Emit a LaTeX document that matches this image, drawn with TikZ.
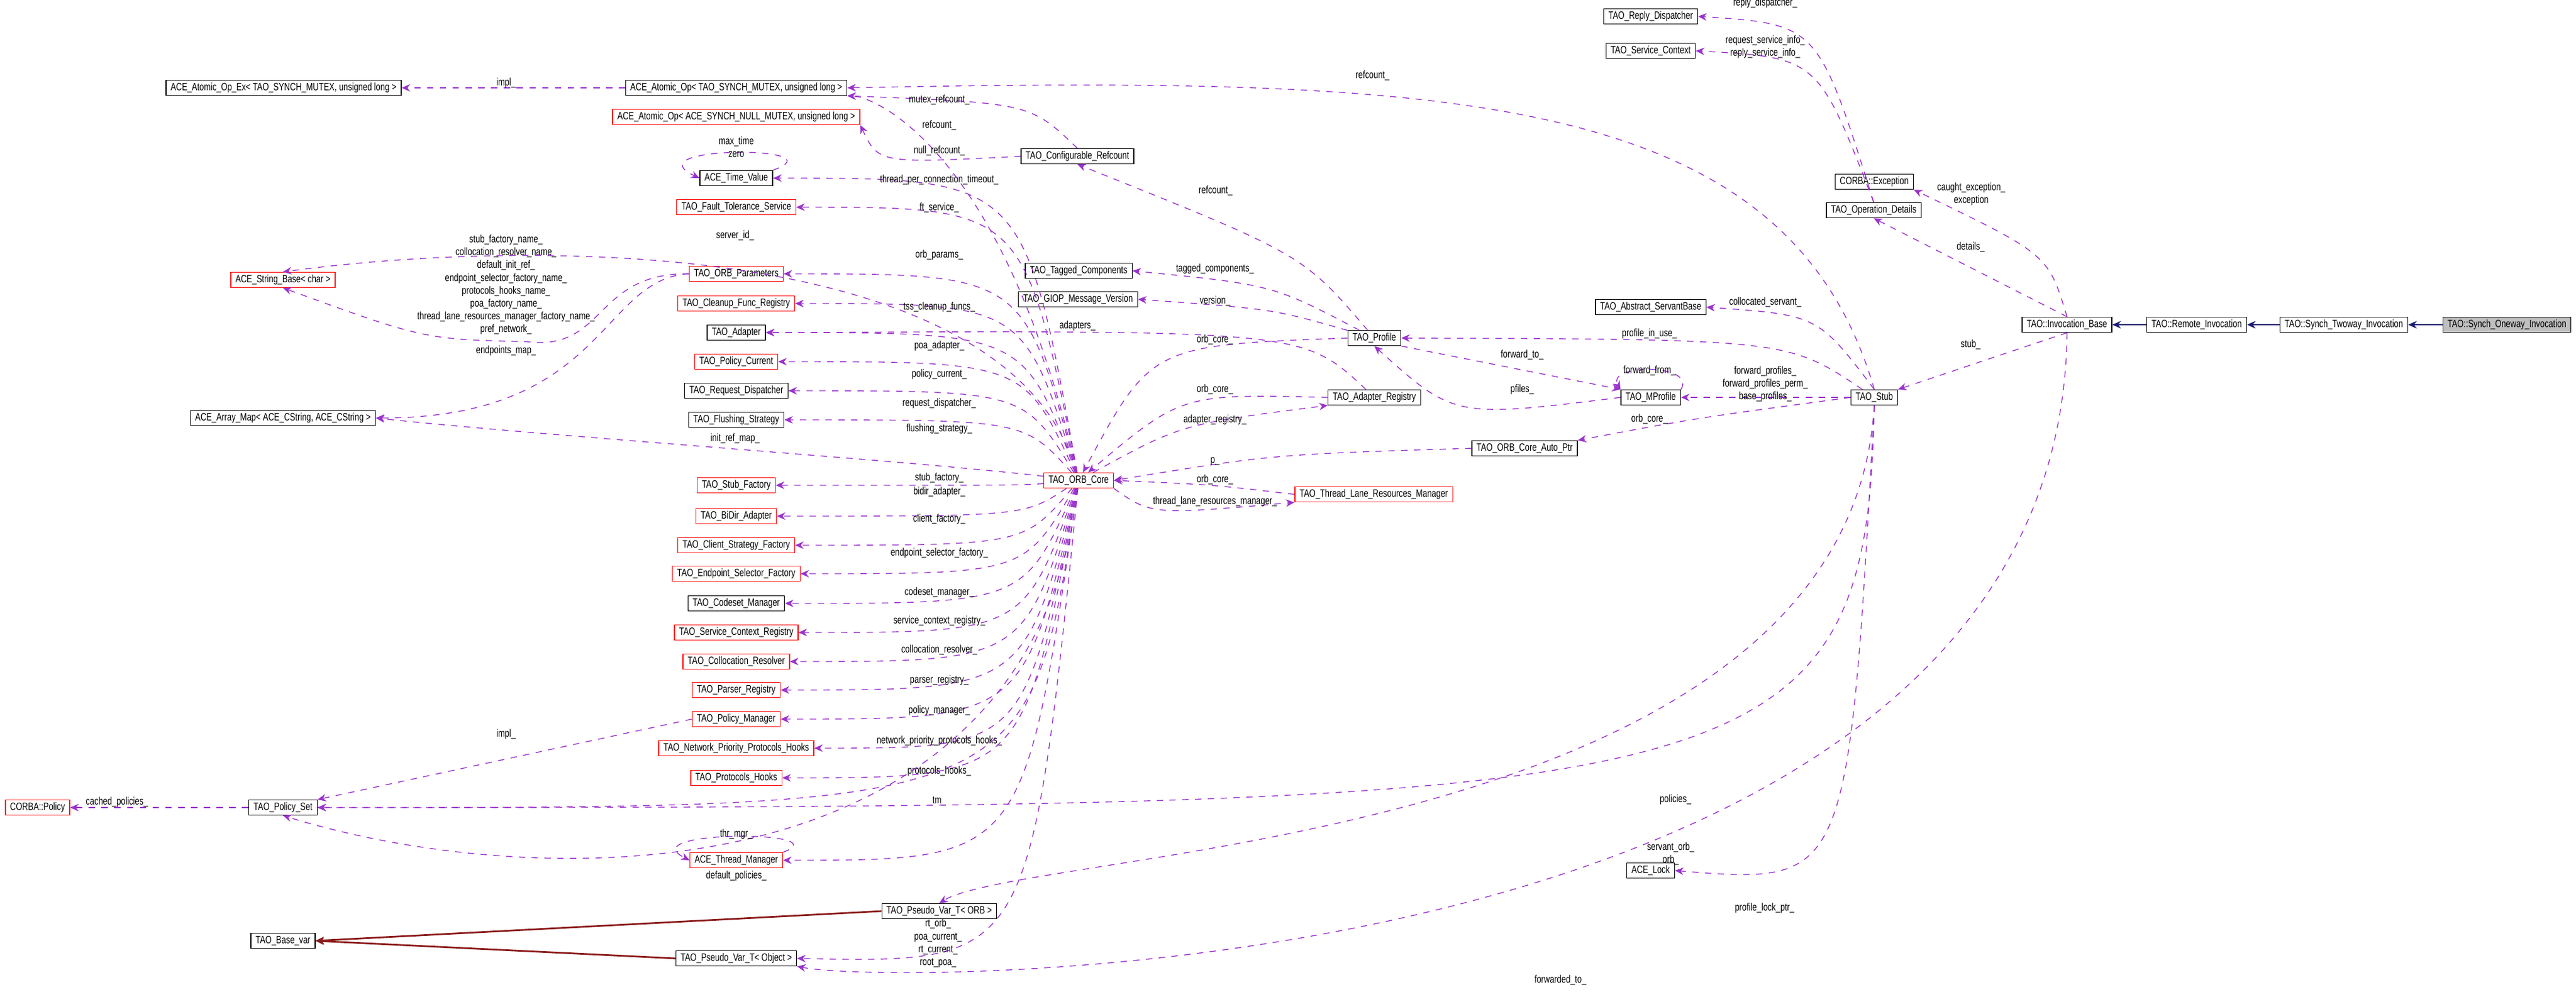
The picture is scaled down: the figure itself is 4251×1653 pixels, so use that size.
\documentclass[tikz,border=0pt]{standalone}
\usepackage{fontspec}
\newfontfamily\dxfont[FakeStretch=0.76]{Liberation Sans}
\usetikzlibrary{arrows.meta}
\definecolor{usecol}{HTML}{9A32CD}
\definecolor{inhcol}{HTML}{191970}
\definecolor{tplcol}{HTML}{8B1A1A}

\begin{document}
\begin{tikzpicture}[x=0.01cm, y=-0.01cm,
  every node/.style={font=\dxfont\fontsize{5}{6}\selectfont},
  cls/.style={draw, thin, fill=white, minimum height=0.25cm, inner xsep=2.2pt, inner ysep=0pt},
  redcls/.style={cls, draw=red},
  selfcls/.style={cls, fill=black!25},
  use/.style={draw=usecol, dashed, -{Stealth[length=4pt,width=3.5pt]}},
  inh/.style={draw=inhcol, thick, -{Stealth[length=4pt,width=3.5pt]}},
  tpl/.style={draw=tplcol, thick, -{Stealth[length=4pt,width=3.5pt]}},
  lbl/.style={align=center, inner sep=0pt}
]
\useasboundingbox (0,0) rectangle (4251,1653);

% left and middle columns
\node[cls] (aopex) at (468,145) {ACE\_Atomic\_Op\_Ex< TAO\_SYNCH\_MUTEX, unsigned long >};
\node[cls] (aop) at (1215,145) {ACE\_Atomic\_Op< TAO\_SYNCH\_MUTEX, unsigned long >};
\node[redcls] (aopnull) at (1215,193) {ACE\_Atomic\_Op< ACE\_SYNCH\_NULL\_MUTEX, unsigned long >};
\node[cls] (tv) at (1215,294) {ACE\_Time\_Value};
\node[redcls] (fts) at (1215,342) {TAO\_Fault\_Tolerance\_Service};
\node[redcls] (strb) at (467,462) {ACE\_String\_Base< char >};
\node[redcls] (orbp) at (1215,452) {TAO\_ORB\_Parameters};
\node[redcls] (cfr) at (1215,501) {TAO\_Cleanup\_Func\_Registry};
\node[cls] (adp) at (1215,549) {TAO\_Adapter};
\node[redcls] (pcur) at (1215,597) {TAO\_Policy\_Current};
\node[cls] (rdis) at (1215,645) {TAO\_Request\_Dispatcher};
\node[cls] (flush) at (1215,693) {TAO\_Flushing\_Strategy};
\node[cls] (amap) at (467,690) {ACE\_Array\_Map< ACE\_CString, ACE\_CString >};
\node[redcls] (stubf) at (1215,801) {TAO\_Stub\_Factory};
\node[redcls] (bidir) at (1215,852) {TAO\_BiDir\_Adapter};
\node[redcls] (csf) at (1215,900) {TAO\_Client\_Strategy\_Factory};
\node[redcls] (esf) at (1215,947) {TAO\_Endpoint\_Selector\_Factory};
\node[cls] (csm) at (1215,996) {TAO\_Codeset\_Manager};
\node[redcls] (scr) at (1215,1044) {TAO\_Service\_Context\_Registry};
\node[redcls] (colr) at (1215,1092) {TAO\_Collocation\_Resolver};
\node[redcls] (parr) at (1215,1139) {TAO\_Parser\_Registry};
\node[redcls] (pman) at (1215,1187) {TAO\_Policy\_Manager};
\node[redcls] (nph) at (1215,1235) {TAO\_Network\_Priority\_Protocols\_Hooks};
\node[redcls] (phk) at (1215,1284) {TAO\_Protocols\_Hooks};
\node[redcls] (cpol) at (62,1333) {CORBA::Policy};
\node[cls] (pset) at (467,1333) {TAO\_Policy\_Set};
\node[redcls] (thm) at (1215,1420) {ACE\_Thread\_Manager};
\node[cls] (pvorb) at (1550,1504) {TAO\_Pseudo\_Var\_T< ORB >};
\node[cls] (bvar) at (467,1553) {TAO\_Base\_var};
\node[cls] (pvobj) at (1215,1582) {TAO\_Pseudo\_Var\_T< Object >};

% core and right side
\node[redcls] (orb) at (1780,793) {TAO\_ORB\_Core};
\node[cls] (cref) at (1778,258) {TAO\_Configurable\_Refcount};
\node[cls] (tagc) at (1780,447) {TAO\_Tagged\_Components};
\node[cls] (giop) at (1779,494) {TAO\_GIOP\_Message\_Version};
\node[cls] (prof) at (2268,558) {TAO\_Profile};
\node[cls] (areg) at (2268,656) {TAO\_Adapter\_Registry};
\node[cls] (autop) at (2516,740) {TAO\_ORB\_Core\_Auto\_Ptr};
\node[redcls] (tlrm) at (2267,816) {TAO\_Thread\_Lane\_Resources\_Manager};
\node[cls] (repd) at (2724,27) {TAO\_Reply\_Dispatcher};
\node[cls] (sctx) at (2724,84) {TAO\_Service\_Context};
\node[cls] (asb) at (2724,507) {TAO\_Abstract\_ServantBase};
\node[cls] (mprof) at (2724,656) {TAO\_MProfile};
\node[cls] (lock) at (2724,1437) {ACE\_Lock};
\node[cls] (cexc) at (3093,300) {CORBA::Exception};
\node[cls] (opd) at (3092,347) {TAO\_Operation\_Details};
\node[cls] (stub) at (3093,656) {TAO\_Stub};
\node[cls] (ib) at (3411,536) {TAO::Invocation\_Base};
\node[cls] (ri) at (3625,536) {TAO::Remote\_Invocation};
\node[cls] (sti) at (3868,536) {TAO::Synch\_Twoway\_Invocation};
\node[selfcls] (soi) at (4137,536) {TAO::Synch\_Oneway\_Invocation};

% inheritance
\draw[inh] (soi) -- (sti);
\draw[inh] (sti) -- (ri);
\draw[inh] (ri) -- (ib);
\draw[tpl] (pvorb.west) -- (bvar.east);
\draw[tpl] (pvobj.west) -- (bvar.east);

% members of TAO_ORB_Core fanning to the left
\foreach \t/\lab/\ly in {tv/thread\_per\_connection\_timeout\_/297, fts/ft\_service\_/343,
    orbp/orb\_params\_/421, cfr/tss\_cleanup\_funcs\_/507, adp/poa\_adapter\_/571,
    pcur/policy\_current\_/618, rdis/request\_dispatcher\_/666, flush/flushing\_strategy\_/708,
    stubf/stub\_factory\_/789, bidir/bidir\_adapter\_/812, csf/client\_factory\_/857,
    esf/endpoint\_selector\_factory\_/913, csm/codeset\_manager\_/978,
    scr/service\_context\_registry\_/1025, colr/collocation\_resolver\_/1073,
    parr/parser\_registry\_/1123, pman/policy\_manager\_/1173,
    nph/network\_priority\_protocols\_hooks\_/1223, phk/protocols\_hooks\_/1273}{
  \draw[use] (orb) .. controls (1690,0 |- \t.east) .. (\t.east);
  \node[lbl] (l\t) at (1550,\ly) {\lab};
}
\draw[use] (orb) .. controls (1690,1420) .. (thm.east);
\draw[use] (orb) .. controls (1700,1333) .. (pset.east);
\node[lbl] (ltm) at (1550,1323) {tm\_};
\draw[use] (orb) .. controls (1700,1480) and (900,1480) .. (pset.south);
\node[lbl] (ldefp) at (1215,1446) {default\_policies\_};
\draw[use] (orb) .. controls (1700,1590) .. (pvobj.east);
\node[lbl] (lrt) at (1548,1557) {rt\_orb\_\\poa\_current\_\\rt\_current\_\\root\_poa\_};
\draw[use] (orb) .. controls (1670,400) and (900,390) .. (strb.north);
\node[lbl] (lsid) at (1213,389) {server\_id\_};
\draw[use] (orb) .. controls (1500,760) and (900,720) .. (amap.east);
\node[lbl] (lirm) at (1213,724) {init\_ref\_map\_};
\draw[use] (orb) .. controls (1660,260) and (1450,160) .. (aop.south east);
\node[lbl] (lref1) at (1550,207) {refcount\_};

% self loops
\draw[use] (tv.north east) .. controls (1390,240) and (1040,240) .. (tv.west);
\node[lbl] (lmax) at (1215,243) {max\_time\\zero};
\draw[use] (thm.north east) .. controls (1390,1370) and (1040,1370) .. (thm.west);
\node[lbl] (lthr) at (1215,1377) {thr\_mgr\_};
\draw[use] (mprof.north east) .. controls (2800,600) and (2650,600) .. (mprof.north west);
\node[lbl] (lffrom) at (2722,612) {forward\_from\_};

% left side members
\draw[use] (aop) -- (aopex);
\node[lbl] (limpl1) at (835,137) {impl\_};
\draw[use] (orbp.west) .. controls (980,450) and (1000,580) .. (870,564) .. controls (700,560) .. (strb.south);
\node[lbl] (lnames) at (835,470) {stub\_factory\_name\_\\collocation\_resolver\_name\_\\default\_init\_ref\_\\endpoint\_selector\_factory\_name\_\\protocols\_hooks\_name\_\\poa\_factory\_name\_\\thread\_lane\_resources\_manager\_factory\_name\_\\pref\_network\_};
\draw[use] (orbp.west) .. controls (990,460) and (1000,690) .. (amap.east);
\node[lbl] (lemap) at (835,579) {endpoints\_map\_};
\draw[use] (pman.west) -- (pset.north east);
\node[lbl] (limpl2) at (835,1212) {impl\_};
\draw[use] (pset) -- (cpol);
\node[lbl] (lcache) at (193,1324) {cached\_policies\_};

% refcounts
\draw[use] (cref.north) .. controls (1700,170) .. (aop.south east);
\node[lbl] (lmref) at (1550,165) {mutex\_refcount\_};
\draw[use] (cref.west) .. controls (1450,270) .. (aopnull.south east);
\node[lbl] (lnref) at (1550,249) {null\_refcount\_};
\draw[use] (stub.north) .. controls (2950,150) and (2400,125) .. (aop.east);
\node[lbl] (lref2) at (2265,125) {refcount\_};

% TAO_Profile and friends
\draw[use] (prof) .. controls (2150,420) .. (cref.south);
\node[lbl] (lref3) at (2006,315) {refcount\_};
\draw[use] (prof) .. controls (2100,470) .. (tagc.east);
\node[lbl] (ltag) at (2005,444) {tagged\_components\_};
\draw[use] (prof) .. controls (2100,510) .. (giop.east);
\node[lbl] (lver) at (2005,497) {version\_};
\draw[use] (areg) .. controls (2150,545) .. (adp.east);
\node[lbl] (ladps) at (1778,538) {adapters\_};
\draw[use] (prof.west) .. controls (1900,570) .. (orb);
\node[lbl] (loc1) at (2005,561) {orb\_core\_};
\draw[use] (areg.west) .. controls (1950,650) .. (orb);
\node[lbl] (loc2) at (2005,643) {orb\_core\_};
\draw[use] (orb) .. controls (1950,700) .. (areg.south west);
\node[lbl] (lareg) at (2005,693) {adapter\_registry\_};
\draw[use] (autop.west) .. controls (2100,750) .. (orb.east);
\node[lbl] (lp) at (2005,762) {p\_};
\draw[use] (tlrm.west) .. controls (2000,800) .. (orb.east);
\node[lbl] (loc3) at (2005,792) {orb\_core\_};
\draw[use] (orb.south east) .. controls (1900,850) .. (tlrm.south west);
\node[lbl] (ltlrm) at (2005,828) {thread\_lane\_resources\_manager\_};

% TAO_Stub members
\draw[use] (stub) .. controls (2950,560) .. (prof.east);
\node[lbl] (lpiu) at (2722,551) {profile\_in\_use\_};
\draw[use] (prof.south east) -- (mprof.north west);
\node[lbl] (lfto) at (2512,586) {forward\_to\_};
\draw[use] (mprof.west) .. controls (2400,690) .. (prof.south);
\node[lbl] (lpf) at (2512,643) {pfiles\_};
\draw[use] (stub) -- (mprof);
\node[lbl] (lfps) at (2913,634) {forward\_profiles\_\\forward\_profiles\_perm\_\\base\_profiles\_};
\draw[use] (stub.west) .. controls (2800,690) .. (autop.north east);
\node[lbl] (loc4) at (2722,692) {orb\_core\_};
\draw[use] (stub.north) .. controls (3000,520) .. (asb.east);
\node[lbl] (lcs) at (2913,499) {collocated\_servant\_};
\draw[use] (stub.south) .. controls (3080,1320) and (2900,1333) .. (pset.east);
\node[lbl] (lpol) at (2765,1320) {policies\_};
\draw[use] (stub.south) .. controls (3050,1400) and (1700,1400) .. (pvorb.north);
\node[lbl] (lsorb) at (2757,1409) {servant\_orb\_\\orb\_};
\draw[use] (stub.south) .. controls (3050,1460) .. (lock.east);
\node[lbl] (lplock) at (2912,1499) {profile\_lock\_ptr\_};

% TAO_Operation_Details and TAO::Invocation_Base members
\draw[use] (opd.north) .. controls (3000,40) .. (repd.east);
\node[lbl] (lrd) at (2913,5) {reply\_dispatcher\_};
\draw[use] (opd.north) .. controls (3000,95) .. (sctx.east);
\node[lbl] (lsi) at (2913,77) {request\_service\_info\_\\reply\_service\_info\_};
\draw[use] (ib.north) .. controls (3380,420) .. (cexc.south east);
\node[lbl] (lexc) at (3253,320) {caught\_exception\_\\exception};
\draw[use] (ib.north) -- (opd.south);
\node[lbl] (ldet) at (3252,408) {details\_};
\draw[use] (ib.south) -- (stub.north east);
\node[lbl] (lstub) at (3252,569) {stub\_};
\draw[use] (ib.south) .. controls (3400,1620) and (1500,1630) .. (pvobj.south east);
\node[lbl] (lfwd) at (2575,1618) {forwarded\_to\_};
\end{tikzpicture}
\end{document}
